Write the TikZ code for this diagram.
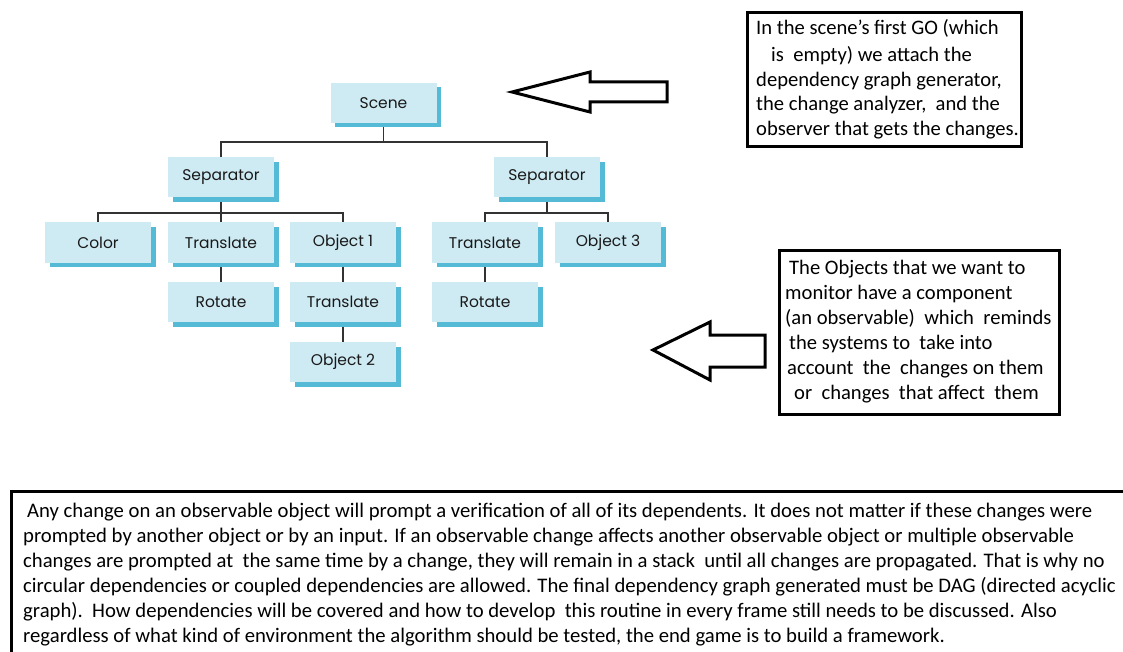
\documentclass[tikz,border=0pt]{standalone}
\usepackage{fontspec}
\setmainfont{Carlito}
\newfontfamily\diagfont{Poppins}
\usetikzlibrary{shadows,backgrounds}
\definecolor{boxfill}{RGB}{206,235,244}
\definecolor{boxshade}{RGB}{84,186,214}
\definecolor{wire}{RGB}{50,50,50}
\tikzset{
  scenebox/.style={rectangle, fill=boxfill, minimum width=106pt, minimum height=40pt,
    inner sep=0pt, font=\diagfont\fontsize{15.5}{17}\selectfont, text=black!90,
    drop shadow={shadow xshift=4.5pt, shadow yshift=-4.5pt, fill=boxshade, opacity=1}},
  link/.style={draw=wire, line width=1.3pt},
  frame/.style={draw=black, line width=3pt},
  bigarrow/.style={draw=black, line width=3pt, fill=white, line join=miter},
  notetext/.style={font=\fontsize{20.6}{24.5}\selectfont, align=left, inner sep=0pt, anchor=north west}
}
\begin{document}
\begin{tikzpicture}[x=1pt,y=-1pt]
\useasboundingbox (0,0) rectangle (1123,652);
\clip (0,0) rectangle (1123,652);

% scene graph
\node[scenebox] (scene) at (383.5,103) {Scene};
\node[scenebox] (sepL) at (221,177.5) {Separator};
\node[scenebox] (sepR) at (547,177.5) {Separator};
\node[scenebox] (color) at (98,242.5) {Color};
\node[scenebox] (transL) at (221,242.5) {Translate};
\node[scenebox] (obj1) at (343,242.5) {Object 1};
\node[scenebox] (transR) at (485,242.5) {Translate};
\node[scenebox] (obj3) at (608,242.5) {Object 3};
\node[scenebox] (rotL) at (221,302) {Rotate};
\node[scenebox] (transM) at (343,302) {Translate};
\node[scenebox] (rotR) at (485,302) {Rotate};
\node[scenebox] (obj2) at (343,362) {Object 2};

\coordinate (jscene) at (383.5,142);
\coordinate (jsepL) at (221,213);
\coordinate (jsepR) at (547,213);
\begin{scope}[on background layer]
  \fill[white] (0,0) rectangle (1123,652);
  \draw[link] (scene.south) -- (jscene);
  \draw[link] (sepL.north) |- (jscene) -| (sepR.north);
  \draw[link] (sepL.south) -- (jsepL);
  \draw[link] (color.north) |- (jsepL) -| (obj1.north);
  \draw[link] (jsepL) -- (transL.north);
  \draw[link] (sepR.south) -- (jsepR);
  \draw[link] (transR.north) |- (jsepR) -| (obj3.north);
  \draw[link] (transL.south) -- (rotL.north);
  \draw[link] (obj1.south) -- (transM.north);
  \draw[link] (transM.south) -- (obj2.north);
  \draw[link] (transR.south) -- (rotR.north);
\end{scope}

% pointer arrows
\draw[bigarrow] (512,92) -- (590,72) -- (590,82) -- (667,82) -- (667,102)
  -- (590,102) -- (590,112) -- cycle;
\draw[bigarrow] (653,350) -- (710,322) -- (710,335) -- (765,335) -- (765,367)
  -- (710,367) -- (710,380) -- cycle;

% note about the scene
\node[frame, rectangle, minimum width=274pt, minimum height=134pt, anchor=north west]
  (noteA) at (746,11) {};
\node[notetext] (noteAtext) at (756,19.5) {In the scene's first GO (which\\[2.5pt]
\hspace*{15pt}is\ \ empty) we attach the\\
dependency graph generator,\\
the change analyzer,\ \ and the\\
observer that gets the changes.};

% note about observables
\node[frame, rectangle, minimum width=280pt, minimum height=164pt, anchor=north west]
  (noteB) at (778,249) {};
\node[notetext, font=\fontsize{20.6}{25}\selectfont] (noteBtext) at (785,260) {\hspace*{4pt}The Objects that we want to\\
monitor have a component\\
(an observable)\ \ which\ \ reminds\\
\hspace*{4pt}the systems to\ \ take into\\
\hspace*{2pt}account\ \ the\ \ changes on them\\
\hspace*{9pt}or\ \ changes\ \ that affect\ \ them};

% general description
\node[frame, rectangle, minimum width=1140pt, minimum height=180pt, anchor=north west]
  (noteC) at (10,490) {};
\node[notetext, font=\fontsize{20.7}{25}\selectfont] (noteCtext) at (23,503) {\hspace*{4pt}Any change on an observable object will prompt a verification of all of its dependents. It does not matter if these changes were\\
prompted by another object or by an input. If an observable change affects another observable object or multiple observable\\
changes are prompted at\ \ the same time by a change, they will remain in a stack\ \ until all changes are propagated. That is why no\\
circular dependencies or coupled dependencies are allowed. The final dependency graph generated must be DAG (directed acyclic\\
graph).\ \ How dependencies will be covered and how to develop\ \ this routine in every frame still needs to be discussed. Also\\
regardless of what kind of environment the algorithm should be tested, the end game is to build a framework.};
\end{tikzpicture}
\end{document}
